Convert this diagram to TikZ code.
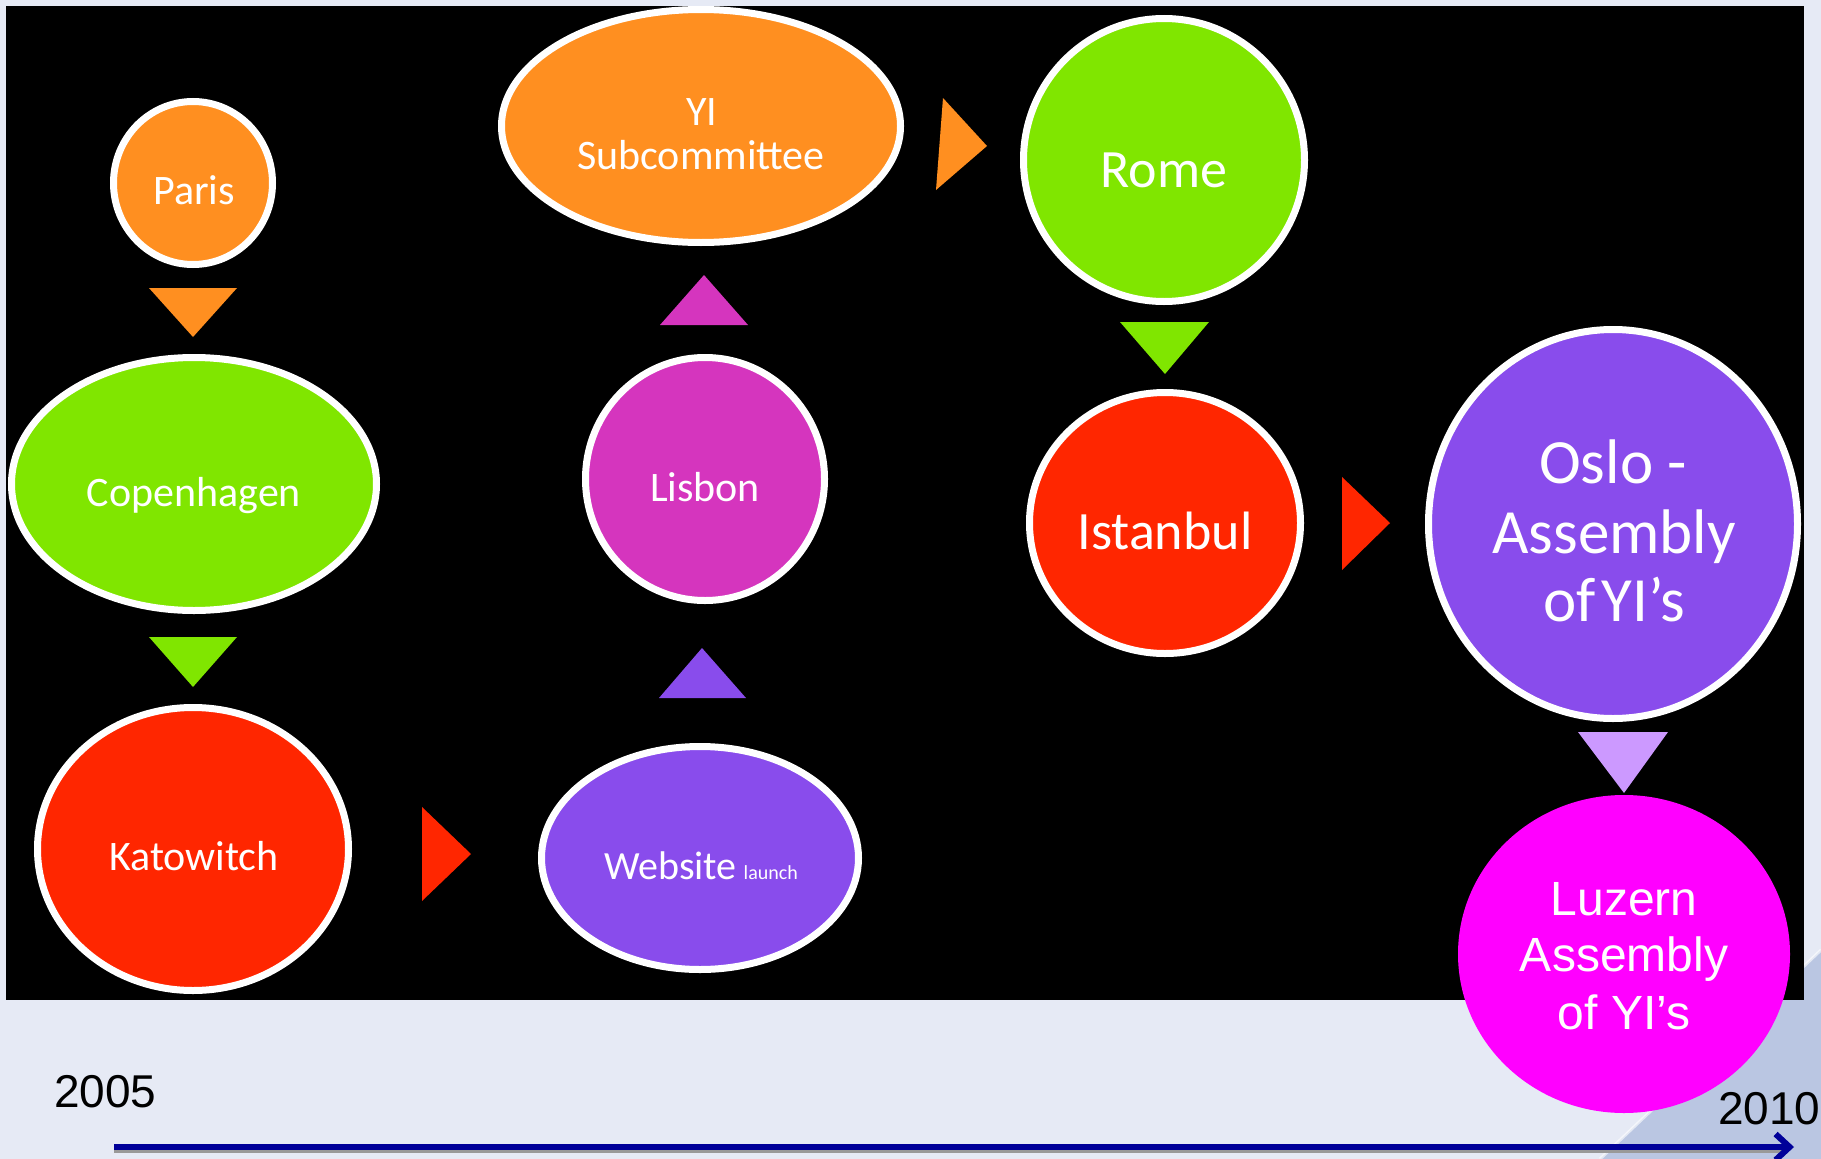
\documentclass[tikz,border=0pt]{standalone}
\usepackage{fontspec}
\setmainfont{Carlito}
\newfontfamily\arialf{Liberation Sans}
\usetikzlibrary{shapes.geometric,arrows.meta,calc}
\definecolor{bgc}{HTML}{E6EAF5}
\definecolor{swoosh}{HTML}{BAC6E2}
\definecolor{corange}{HTML}{FF8F20}
\definecolor{cgreen}{HTML}{80E600}
\definecolor{cred}{HTML}{FF2600}
\definecolor{cmag}{HTML}{D535BE}
\definecolor{cpurple}{HTML}{894CEC}
\definecolor{clilac}{HTML}{CC99FF}
\definecolor{cfuchsia}{HTML}{FF00FF}
\definecolor{navy}{HTML}{000099}
\begin{document}
\begin{tikzpicture}[x=1pt,y=-1pt,
  bub/.style={ellipse, draw=white, line width=7pt, inner sep=0pt},
  txt/.style={text=white, inner sep=0pt, anchor=base, font=\fontsize{42}{50}\selectfont},
  bigtxt/.style={txt, font=\fontsize{54}{60}\selectfont},
  oslotxt/.style={txt, font=\fontsize{63}{70}\selectfont},
  luztxt/.style={txt, font=\arialf\fontsize{48}{56}\selectfont},
  yeartxt/.style={text=black, inner sep=0pt, anchor=base west, font=\arialf\fontsize{46}{54}\selectfont},
]
\useasboundingbox (0,0) rectangle (1821,1159);
% background
\fill[bgc] (0,0) rectangle (1821,1159);
\fill[swoosh] (1600,1159) -- (1821,950) -- (1821,1159) -- cycle;
\draw[white, opacity=0.6, line width=3pt] (1600,1159) -- (1821,950);
% black panel
\fill[black] (6,6) rectangle (1804,1000);

% bubbles
\node[bub, fill=corange, minimum width=159pt, minimum height=163pt] (paris) at (193,183) {};
\node[bub, fill=corange, minimum width=399pt, minimum height=233pt] (yi) at (701,126) {};
\node[bub, fill=cgreen, minimum width=365pt, minimum height=253pt] (cop) at (194,484) {};
\node[bub, fill=cmag, minimum width=239pt, minimum height=243pt] (lis) at (705,479) {};
\node[bub, fill=cred, minimum width=311pt, minimum height=283pt] (kat) at (193,849) {};
\node[bub, fill=cpurple, minimum width=317pt, minimum height=223pt] (web) at (700,858) {};
\node[bub, fill=cgreen, minimum width=281pt, minimum height=283pt] (rome) at (1164,160) {};
\node[bub, fill=cred, minimum width=271pt, minimum height=261pt] (ist) at (1165,523) {};
\node[bub, fill=cpurple, minimum width=369pt, minimum height=389pt] (oslo) at (1613,524) {};
\node[ellipse, fill=cfuchsia, inner sep=0pt, minimum width=332pt, minimum height=318pt] (luz) at (1624,954) {};

% texts
\node[txt] (parist) at (194,204) {Paris};
\node[txt] (yit1) at (702,125) {YI};
\node[txt] (yit2) at (701,169) {Subcommittee};
\node[txt] (copt) at (194,506) {Copenhagen};
\node[txt] (list) at (705,501) {Lisbon};
\node[txt] (katt) at (194,870) {Katowitch};
\node[txt] (webt) at (701,879) {\fontsize{40}{48}\selectfont Website\hspace{7pt}\fontsize{20}{24}\selectfont launch};
\node[bigtxt] (romet) at (1164,187) {Rome};
\node[bigtxt] (istt) at (1165,549) {Istanbul};
\node[oslotxt] (oslot1) at (1613,483) {Oslo -};
\node[oslotxt] (oslot2) at (1614,553) {Assembly};
\node[oslotxt] (oslot3) at (1614,621) {of\hspace{0.1em}YI’s};
\node[luztxt] (luzt1) at (1624,915) {Luzern};
\node[luztxt] (luzt2) at (1624,971) {Assembly};
\node[luztxt] (luzt3) at (1624,1029) {of YI’s};

% triangle connectors
\fill[corange] (149,288) -- (237,288) -- (193,337) -- cycle;
\fill[cgreen] (149,637) -- (237,637) -- (193,687) -- cycle;
\fill[cred] (422,807) -- (422,901) -- (471,854) -- cycle;
\fill[cpurple] (659,698) -- (746,698) -- (702,648) -- cycle;
\fill[cmag] (660,325) -- (748,325) -- (704,275) -- cycle;
\fill[corange] (943,98) -- (936,190) -- (987,146) -- cycle;
\fill[cgreen] (1120,322) -- (1209,322) -- (1165,374) -- cycle;
\fill[cred] (1342,477) -- (1342,570) -- (1390,523) -- cycle;
\fill[clilac] (1578,732) -- (1668,732) -- (1624,793) -- cycle;

% timeline
\coordinate (tstart) at (114,1147);
\coordinate (tend) at (1794,1147);
\draw[gray!80, line width=4pt] ($(tstart)+(0,4)$) -- ($(tend)+(-10,4)$);
\draw[navy, line width=6pt, -{Straight Barb[length=14pt,width=26pt,line width=6pt]}] (tstart) -- (tend);
\node[yeartxt] (y2005) at (54,1107) {2005};
\node[yeartxt] (y2010) at (1718,1124) {2010};
\end{tikzpicture}
\end{document}
